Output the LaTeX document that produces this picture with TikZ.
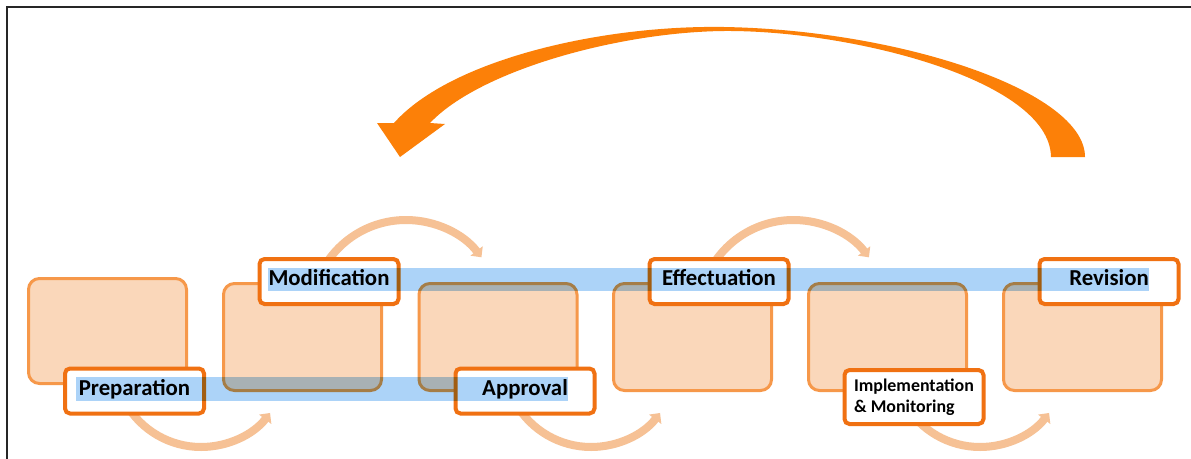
\documentclass[tikz,border=0pt]{standalone}
\usepackage{fontspec}
\setmainfont{Carlito}
\usetikzlibrary{arrows.meta}

\definecolor{loopOrange}{RGB}{252,128,8}
\definecolor{flowOrange}{RGB}{246,193,149}
\definecolor{stageFill}{RGB}{250,215,186}
\definecolor{stageLine}{RGB}{246,152,74}
\definecolor{labelLine}{RGB}{240,113,18}
\definecolor{barBlue}{RGB}{172,211,248}

\tikzset{
  stagebox/.style={draw=stageLine, fill=stageFill, line width=3pt,
    rounded corners=11pt, minimum width=158pt, minimum height=107pt,
    inner sep=0pt},
  labelbox/.style={draw=labelLine, fill=white, line width=4pt,
    rounded corners=5pt, minimum width=139pt, minimum height=45pt,
    inner sep=0pt, font=\bfseries\fontsize{22.8}{27}\selectfont,
    text height=14pt, text depth=6pt},
  flowarrow/.style={draw=flowOrange, line width=8pt,
    -{Triangle[width=15pt,length=8pt]}},
  highlight/.style={fill=barBlue, blend mode=multiply},
  framerule/.style={draw=black!85, line width=2.2pt}
}

\begin{document}
\begin{tikzpicture}[x=1pt,y=-1pt]
\useasboundingbox (0,0) rectangle (1191,458);
\fill[white] (0,0) rectangle (1191,458);
\draw[framerule] (7,460) -- (7,7) -- (1193,7);

% feedback loop from the last stage back to the beginning
\fill[loopOrange]
  (1085,157) .. controls (1085,91) and (900,30) .. (724,27)
  .. controls (600,25) and (450,60) .. (394,123)
  -- (377,123) -- (400,157) -- (445,124) -- (430,123)
  .. controls (480,70) and (620,32) .. (724,31)
  .. controls (850,30) and (1050,80) .. (1051,157)
  -- cycle;

% stage panels
\node[stagebox, minimum height=105pt] (s1) at (107.5,331) {};
\node[stagebox] (s2) at (302.5,337) {};
\node[stagebox] (s3) at (498,337) {};
\node[stagebox] (s4) at (692.5,337) {};
\node[stagebox] (s5) at (887.5,337) {};
\node[stagebox] (s6) at (1082.5,337) {};

% step arrows between the stages
\coordinate (fa) at (125.7,403.5);
\coordinate (fb) at (323.7,267.5);
\coordinate (fc) at (515.7,403.5);
\coordinate (fd) at (711.2,267.5);
\coordinate (fe) at (904.7,403.5);
\draw[flowarrow] (fa) arc[start angle=150, end angle=37.5, radius=87];
\draw[flowarrow] (fb) arc[start angle=210, end angle=322.6, radius=95];
\draw[flowarrow] (fc) arc[start angle=150, end angle=37.5, radius=87];
\draw[flowarrow] (fd) arc[start angle=210, end angle=322.6, radius=95];
\draw[flowarrow] (fe) arc[start angle=150, end angle=37.5, radius=87];

% stage labels
\node[labelbox] (prep) at (134.5,391) {Preparation};
\node[labelbox] (modif) at (329,281.5) {Modification};
\node[labelbox] (appr) at (525,391) {Approval};
\node[labelbox] (effect) at (719,281.5) {Effectuation};
\node[labelbox, minimum height=54pt, align=left,
  font=\bfseries\fontsize{17.9}{21}\selectfont, text height=, text depth=]
  (impl) at (914,397) {Implementation\\\& Monitoring};
\node[labelbox] (revis) at (1109,281.5) {Revision};

% highlight bands across the label rows
\fill[highlight] (268,268) rectangle (1149,291);
\fill[highlight] (76,377) rectangle (568,401);
\end{tikzpicture}
\end{document}
